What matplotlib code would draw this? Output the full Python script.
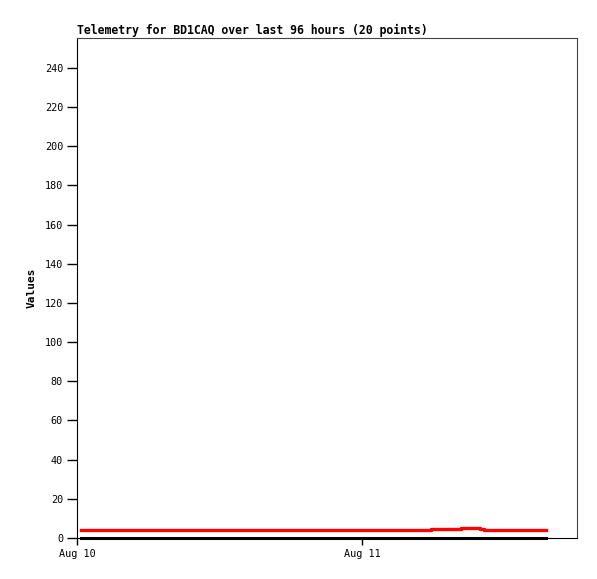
import datetime as dt
import matplotlib
matplotlib.use('Agg')
import matplotlib.pyplot as plt
import matplotlib.dates as mdates

start = dt.datetime(2024, 8, 10)
hours = [0.3, 2.5, 4.6, 6.8, 9.0, 11.1, 13.3, 15.5, 17.6, 19.8,
         22.0, 24.1, 26.3, 28.5, 29.8, 32.3, 33.9, 34.3, 37.0, 39.5]
red_vals = [3.9, 3.9, 3.9, 3.9, 3.9, 3.9, 3.9, 3.9, 3.9, 3.9,
            3.9, 3.9, 3.9, 3.9, 4.4, 4.9, 4.4, 3.9, 3.9, 3.9]
black_vals = [0.1] * 20
times = [start + dt.timedelta(hours=h) for h in hours]

plt.rcParams['font.family'] = 'DejaVu Sans Mono'
fig = plt.figure(figsize=(5.97, 5.79), dpi=100)
ax = fig.add_axes([77/597, 41/579, 500/597, 500/579])

ax.plot(times, black_vals, color='black', lw=2.2, drawstyle='steps-post', clip_on=False, zorder=3)
ax.plot(times, red_vals, color='#ff0000', lw=2.4, drawstyle='steps-post', zorder=4)

ax.set_xlim(start, start + dt.timedelta(days=500/285))
ax.set_ylim(0, 255.3)
ax.set_yticks(range(0, 241, 20))
ax.xaxis.set_major_locator(mdates.DayLocator())
ax.xaxis.set_major_formatter(mdates.DateFormatter('%b %d'))
ax.tick_params(direction='out', length=7, width=1, labelsize=7.3, pad=3)
ax.tick_params(axis='x', length=5)
for s in ['top', 'right']:
    ax.spines[s].set_color('#444444')
ax.set_ylabel('Values', fontsize=8, fontweight='bold', labelpad=6)
ax.set_title('Telemetry for BD1CAQ over last 96 hours (20 points)',
             fontsize=8.3, fontweight='bold', loc='left', pad=3)
fig.savefig('out.png', dpi=100)
